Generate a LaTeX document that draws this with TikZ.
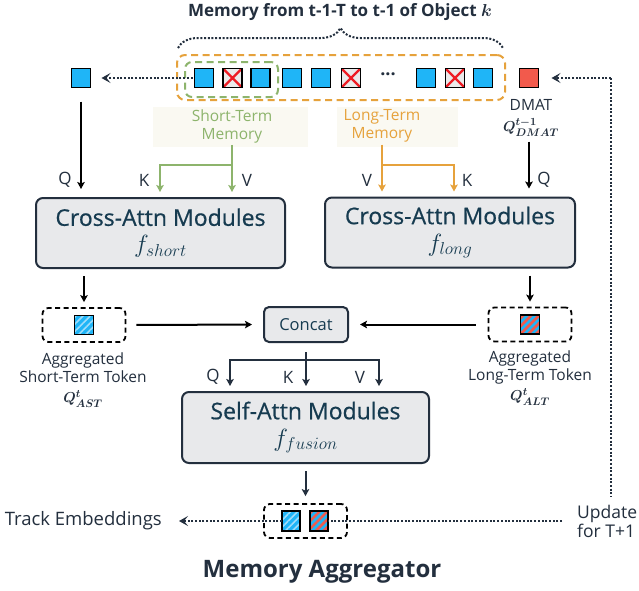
\documentclass[tikz,border=0pt]{standalone}
\usepackage{amsmath}
\usepackage{fontspec}
\setmainfont{Open Sans}
\newfontfamily\modfont{Open Sans}[BoldFont={*}, BoldFeatures={FakeBold=0.6}]
\usetikzlibrary{arrows.meta,patterns.meta,decorations.pathreplacing,calc}
\definecolor{navy}{HTML}{232F3E}
\definecolor{boxtxt}{HTML}{163B50}
\definecolor{boxfill}{HTML}{E8E9EB}
\definecolor{tokblue}{HTML}{1FB5F7}
\definecolor{hatchblue}{HTML}{9FDDFB}
\definecolor{tokred}{HTML}{F25A4C}
\definecolor{xred}{HTML}{EE1C24}
\definecolor{xgray}{HTML}{EAEAEA}
\definecolor{orng}{HTML}{E6A23C}
\definecolor{grn}{HTML}{8DB46C}
\definecolor{labelbg}{HTML}{FAF9F2}
\tikzset{
  tok/.style={draw=black, line width=1.4pt, fill=tokblue, minimum width=19pt, minimum height=19pt, inner sep=0pt, outer sep=0pt},
  xtok/.style={tok, fill=xgray, path picture={\draw[xred,line width=2.2pt] (path picture bounding box.south west) -- (path picture bounding box.north east) (path picture bounding box.north west) -- (path picture bounding box.south east);}},
  htok/.style={tok, fill=none, preaction={fill=tokblue}, pattern={Lines[angle=45,distance=5pt,line width=1.6pt]}, pattern color=hatchblue},
  rtok/.style={htok, pattern={Lines[angle=45,distance=5.5pt,line width=2.6pt]}, pattern color=tokred},
  module/.style={draw=navy, line width=2pt, rounded corners=7pt, fill=boxfill, text=boxtxt, align=center, inner sep=0pt, font=\modfont\bfseries\fontsize{23}{27}\selectfont},
  dbox/.style={draw=black, line width=1.8pt, dash pattern=on 5pt off 3.5pt, rounded corners=6pt, minimum width=83pt, minimum height=34pt, inner sep=0pt},
  obox/.style={draw=orng, line width=2pt, dash pattern=on 7pt off 4.5pt, rounded corners=8pt, inner sep=0pt},
  gbox/.style={draw=grn, line width=2pt, dash pattern=on 7pt off 4.5pt, rounded corners=7pt, inner sep=0pt},
  dotl/.style={draw=navy, line width=2pt, dash pattern=on 2pt off 1.7pt},
  dotarrow/.style={dotl, -{Stealth[length=9pt,width=10pt,inset=4pt]}},
  tip/.style={-{Stealth[length=7pt,width=7.5pt,inset=1.5pt]}},
  arr/.style={draw=black, line width=2pt, tip},
  narr/.style={draw=navy, line width=2pt, tip},
  garr/.style={draw=grn, line width=2pt, tip},
  oarr/.style={draw=orng, line width=2pt, tip},
  lbl/.style={font=\fontsize{15.5}{18}\selectfont, text=navy, inner sep=2pt},
  qkv/.style={font=\fontsize{17}{17}\selectfont, text=navy, inner sep=0pt},
}
\begin{document}
\begin{tikzpicture}[x=1pt,y=-1pt]
\useasboundingbox (0,0) rectangle (639,590);
\fill[white] (0,0) rectangle (639,590);

% title and brace
\node[font=\bfseries\fontsize{17}{18}\selectfont, text=navy] (title) at (340,12) {Memory from t-1-T to t-1 of Object $\boldsymbol{k}$};
\draw[navy, line width=2pt, dash pattern=on 2pt off 1.7pt, decorate, decoration={brace, amplitude=20pt}] (178,48) -- (503,48);

% label backgrounds
\fill[labelbg] (153,107) rectangle (308,147);
\fill[labelbg] (337,107) rectangle (458,147);

% memory boxes
\node[obox, minimum width=328pt, minimum height=45pt] (ltm) at (341,77.5) {};
\node[gbox, minimum width=93pt, minimum height=35pt] (stm) at (231.5,79.5) {};

% tokens
\node[tok] (qin) at (81,78) {};
\node[tok] (s1) at (204,78) {};
\node[xtok] (s2) at (232.5,78) {};
\node[tok] (s3) at (260.5,78) {};
\node[tok] (s4) at (292,78) {};
\node[tok] (s5) at (321,78) {};
\node[xtok] (s6) at (351,78) {};
\node[font=\bfseries\fontsize{18}{18}\selectfont, text=navy] (dots) at (388,74) {...};
\node[tok] (s7) at (426,78) {};
\node[xtok] (s8) at (455,78) {};
\node[tok] (s9) at (483,78) {};
\node[tok, fill=tokred] (dmat) at (529,78) {};

% labels
\node[lbl, text=grn, align=center] (stl) at (232,126) {Short-Term\\Memory};
\node[lbl, text=orng, align=center] (ltl) at (382,126) {Long-Term\\Memory};
\node[lbl, align=center] (dl) at (531,118) {DMAT\\[3pt]$\boldsymbol{Q^{t-1}_{DMAT}}$};

% modules
\node[module, minimum width=249pt, minimum height=70pt] (csa) at (160.5,233) {Cross-Attn Modules\\$f_{short}$};
\node[module, minimum width=250pt, minimum height=70pt] (lca) at (450,232.5) {Cross-Attn Modules\\$f_{long}$};
\node[module, rounded corners=5pt, minimum width=84pt, minimum height=35pt, font=\fontsize{16.5}{18}\selectfont] (cc) at (306,324.5) {Concat};
\node[module, minimum width=247pt, minimum height=71pt] (sa) at (305.5,427.5) {Self-Attn Modules\\$f_{fusion}$};

% aggregated tokens
\node[dbox] (sb) at (84,325) {};
\node[htok] (ast) at (84,325) {};
\node[lbl, align=center, inner sep=0pt] (astl) at (83,380) {Aggregated\\Short-Term Token\\[2pt]$\boldsymbol{Q^{t}_{AST}}$};
\node[dbox] (lb) at (530,324.5) {};
\node[rtok] (alt) at (530,324.5) {};
\node[lbl, align=center, inner sep=0pt] (altl) at (530,378) {Aggregated\\Long-Term Token\\[2pt]$\boldsymbol{Q^{t}_{ALT}}$};
\node[dbox] (bb) at (305.5,521) {};
\node[htok, minimum width=18pt, minimum height=20pt] (bt1) at (291,521) {};
\node[rtok, minimum width=18pt, minimum height=20pt] (bt2) at (319,521) {};

% outer texts
\node[font=\fontsize{18.5}{18}\selectfont, text=navy, anchor=east, inner sep=2pt] (te) at (164,521) {Track Embeddings};
\node[font=\fontsize{17.5}{19}\selectfont, text=navy, anchor=west, align=left, inner sep=2pt] (upd) at (575,521) {Update\\for T+1};
\node[font=\bfseries\fontsize{24}{24}\selectfont, text=navy] (ma) at (322,572) {Memory Aggregator};

% Q K V labels
\node[qkv] (q1) at (65,180) {Q};
\node[qkv] (k1) at (144,180) {K};
\node[qkv] (v1) at (247,180) {V};
\node[qkv] (v2) at (367,180) {V};
\node[qkv] (k2) at (467,180) {K};
\node[qkv] (q2) at (544,180) {Q};
\node[qkv] (q3) at (213,377) {Q};
\node[qkv] (k3) at (288,377) {K};
\node[qkv] (v3) at (360,377) {V};

% connectors
\draw[dotarrow, shorten <=2pt, shorten >=11pt] (s1.west) -- (qin.east);
\coordinate (ur) at (611,78);
\draw[dotarrow, shorten >=13pt] (ur) -- (dmat.east);
\draw[dotl, shorten >=6pt] (ur) -- (ur |- upd.north);
\draw[dotl, shorten <=13pt] (upd.west) -- (bt2.east);
\draw[dotarrow, shorten >=15pt] (bt1.west) -- (te.east);

\draw[arr, shorten <=14pt, shorten >=8pt] (qin.south) -- (qin.south |- csa.north);
\draw[arr, shorten <=3pt, shorten >=8pt] (dl.south -| dmat.south) -- (dmat.south |- lca.north);

\coordinate (gk) at (160,165);
\draw[garr, shorten >=5pt] (stl.south) -- (stl.south |- csa.north);
\draw[garr, shorten >=5pt] (stl.south |- gk) -- (gk) -- (gk |- csa.north);
\coordinate (ok) at (454,165);
\draw[oarr, shorten >=5pt] (ltl.south) -- (ltl.south |- lca.north);
\draw[oarr, shorten >=5pt] (ltl.south |- ok) -- (ok) -- (ok |- lca.north);

\draw[arr, shorten <=7pt, shorten >=5pt] (sb.north |- csa.south) -- (sb.north);
\draw[arr, shorten <=7pt, shorten >=5pt] (lb.north |- lca.south) -- (lb.north);
\draw[arr, shorten <=10pt, shorten >=11pt] (sb.east) -- (cc.west);
\draw[arr, shorten <=12pt, shorten >=11pt] (lb.west) -- (cc.east);

\coordinate (qa) at (230,360);
\coordinate (va) at (379,360);
\draw[narr, shorten <=9pt, shorten >=5pt] (cc.south) -- (cc.south |- sa.north);
\draw[navy, line width=2pt, {Stealth[length=7pt,width=7.5pt,inset=1.5pt]}-{Stealth[length=7pt,width=7.5pt,inset=1.5pt]}, shorten <=5pt, shorten >=5pt] (qa |- sa.north) -- (qa) -- (va) -- (va |- sa.north);
\draw[narr, shorten <=7pt, shorten >=7pt] (sa.south) -- (bb.north);
\end{tikzpicture}
\end{document}
